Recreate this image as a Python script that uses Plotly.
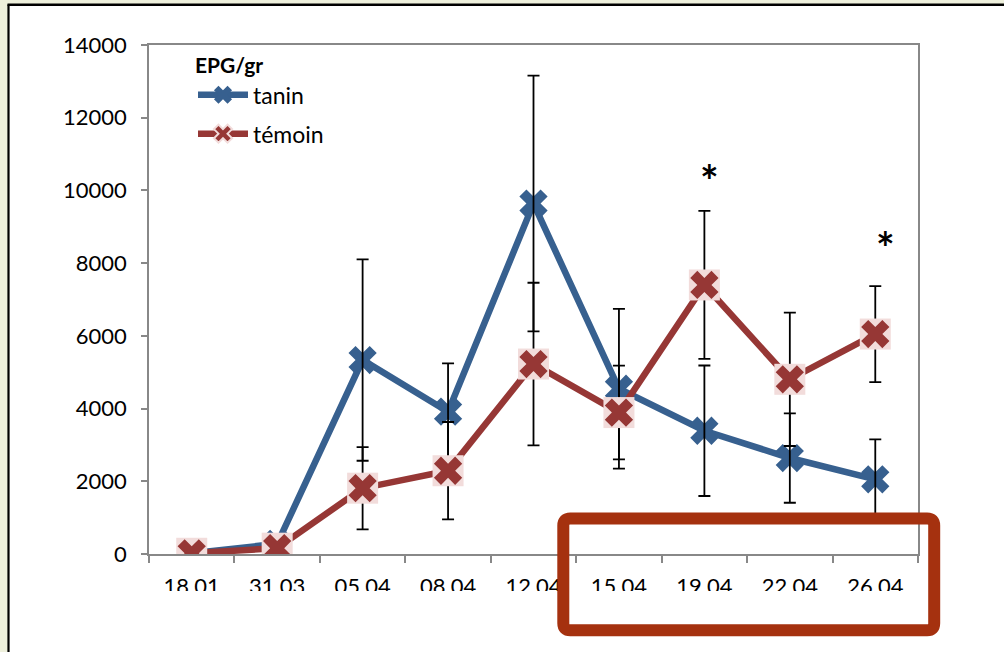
import plotly.graph_objects as go

# ---------------- data ----------------
categories = ["18.01", "31.03", "05.04", "08.04", "12.04", "15.04", "19.04", "22.04", "26.04"]
tanin = [20, 280, 5335, 3915, 9640, 4545, 3390, 2640, 2055]
tanin_err = [0, 0, 2770, 1330, 3515, 2195, 1795, 1230, 1100]
temoin = [20, 160, 1810, 2290, 5225, 3890, 7400, 4805, 6050]
temoin_err = [0, 0, 1130, 1340, 2236, 1290, 2035, 1835, 1320]
sig_categories = ["19.04", "26.04"]
sig_y = [10300, 8450]
sig_labels = ["*", "*"]
y_ticks = [0, 2000, 4000, 6000, 8000, 10000, 12000, 14000]

BLUE = "#37608f"
RED = "#963735"
PINK = "#f2dcdb"
FONT = "Lato"

W, H = 1004, 652
L, R, T, B = 149, 918, 45, 554  # plot area in pixels


def px(x):
    return (x - L) / (R - L)


def py(y):
    return (B - y) / (B - T)


fig = go.Figure()

# tanin: line + markers
fig.add_trace(go.Scatter(
    x=categories, y=tanin, mode="lines+markers", showlegend=False,
    line=dict(color=BLUE, width=6.5),
    marker=dict(symbol="x", size=25, color=BLUE),
))
# tanin error bars (drawn above its markers)
fig.add_trace(go.Scatter(
    x=categories, y=tanin, mode="markers", showlegend=False,
    marker=dict(size=1, color="rgba(0,0,0,0)"),
    error_y=dict(type="data", array=tanin_err, visible=True,
                 color="black", thickness=1.8, width=6),
))
# témoin: line with error bars
fig.add_trace(go.Scatter(
    x=categories, y=temoin, mode="lines", showlegend=False,
    line=dict(color=RED, width=6.5),
    error_y=dict(type="data", array=temoin_err, visible=True,
                 color="black", thickness=1.8, width=6),
))
# témoin: pink square background
fig.add_trace(go.Scatter(
    x=categories, y=temoin, mode="markers", showlegend=False,
    marker=dict(symbol="square", size=31, color=PINK),
))
# témoin: red X
fig.add_trace(go.Scatter(
    x=categories, y=temoin, mode="markers", showlegend=False,
    marker=dict(symbol="x", size=25, color=RED),
))

# legend entries
fig.add_trace(go.Scatter(
    x=[None], y=[None], mode="lines+markers", name="tanin", legendgroup="a",
    line=dict(color=BLUE, width=6.5),
    marker=dict(symbol="x", size=18, color=BLUE),
))
fig.add_trace(go.Scatter(
    x=[None], y=[None], mode="lines+markers", name="témoin", legendgroup="b",
    line=dict(color=RED, width=6.5),
    marker=dict(symbol="x", size=18, color=RED, line=dict(color=PINK, width=2)),
))

# significance stars (category index positions)
for c, yv, t in zip(sig_categories, sig_y, sig_labels):
    fig.add_annotation(x=categories.index(c), y=yv, text="<b>%s</b>" % t,
                       showarrow=False, yanchor="middle",
                       xshift=10 if c == "26.04" else 5,
                       font=dict(family=FONT, size=44, color="black"))


def rounded_path(x0, y0, x1, y1, r):
    rx, ry = r / (R - L), r / (B - T)
    X0, X1 = px(x0), px(x1)
    Y0, Y1 = py(y0), py(y1)  # Y0 top (larger), Y1 bottom
    return (f"M{X0+rx},{Y0} L{X1-rx},{Y0} Q{X1},{Y0} {X1},{Y0-ry} "
            f"L{X1},{Y1+ry} Q{X1},{Y1} {X1-rx},{Y1} "
            f"L{X0+rx},{Y1} Q{X0},{Y1} {X0},{Y1+ry} "
            f"L{X0},{Y0-ry} Q{X0},{Y0} {X0+rx},{Y0} Z")


shapes = [
    # white slide area
    dict(type="rect", xref="paper", yref="paper", layer="below",
         x0=px(9), x1=px(W + 5), y0=py(H + 5), y1=py(5),
         fillcolor="white", line=dict(width=0)),
    # black frame lines (left and top)
    dict(type="line", xref="paper", yref="paper", layer="above",
         x0=px(8.5), x1=px(8.5), y0=py(H + 5), y1=py(4.5),
         line=dict(color="black", width=2.2)),
    dict(type="line", xref="paper", yref="paper", layer="above",
         x0=px(7.5), x1=px(W + 5), y0=py(4.7), y1=py(4.7),
         line=dict(color="black", width=2.5)),
    # white cover clipping bottom of the x tick labels
    dict(type="rect", xref="paper", yref="paper", layer="above",
         x0=px(20), x1=px(W + 5), y0=py(H + 5), y1=py(591),
         fillcolor="white", line=dict(width=0)),
    # red highlight rectangle
    dict(type="path", xref="paper", yref="paper", layer="above",
         path=rounded_path(563.3, 518.5, 934.2, 630.2, 7),
         line=dict(color="#a5310f", width=12), fillcolor="rgba(0,0,0,0)"),
]

fig.update_layout(
    width=W, height=H,
    margin=dict(l=L, r=W - R, t=T, b=H - B, pad=0),
    paper_bgcolor="#eef0dc", plot_bgcolor="white",
    font=dict(family=FONT, size=22, color="black"),
    shapes=shapes,
    showlegend=True,
    legend=dict(x=px(193), y=py(46), xanchor="left", yanchor="top",
                bgcolor="rgba(0,0,0,0)", itemwidth=50,
                title=dict(text="<b>EPG/gr</b>", font=dict(family=FONT, size=21)),
                font=dict(family=FONT, size=23), tracegroupgap=6),
)
fig.update_xaxes(
    type="category", categoryorder="array", categoryarray=categories,
    range=[-0.5, len(categories) - 0.5], autorange=False,
    showline=True, linecolor="#888888", linewidth=1.5, mirror=True,
    ticks="outside", ticklen=7, tickcolor="#888888", tickwidth=1.5,
    tickson="boundaries", showgrid=False, zeroline=False, tickangle=0,
    ticklabelstandoff=12,
    tickfont=dict(family=FONT, size=22, color="black"),
)
fig.update_yaxes(
    range=[0, 14000], autorange=False, tickvals=y_ticks,
    ticktext=[str(v) for v in y_ticks],
    showline=True, linecolor="#888888", linewidth=1.5, mirror=True,
    ticks="outside", ticklen=6, tickcolor="#888888", tickwidth=1.5,
    showgrid=False, zeroline=False, ticklabelstandoff=10,
    tickfont=dict(family=FONT, size=22, color="black"),
)

fig.write_html("out.html", config={"displayModeBar": False},
               post_script="document.body.style.margin='0';document.body.style.padding='0';")
